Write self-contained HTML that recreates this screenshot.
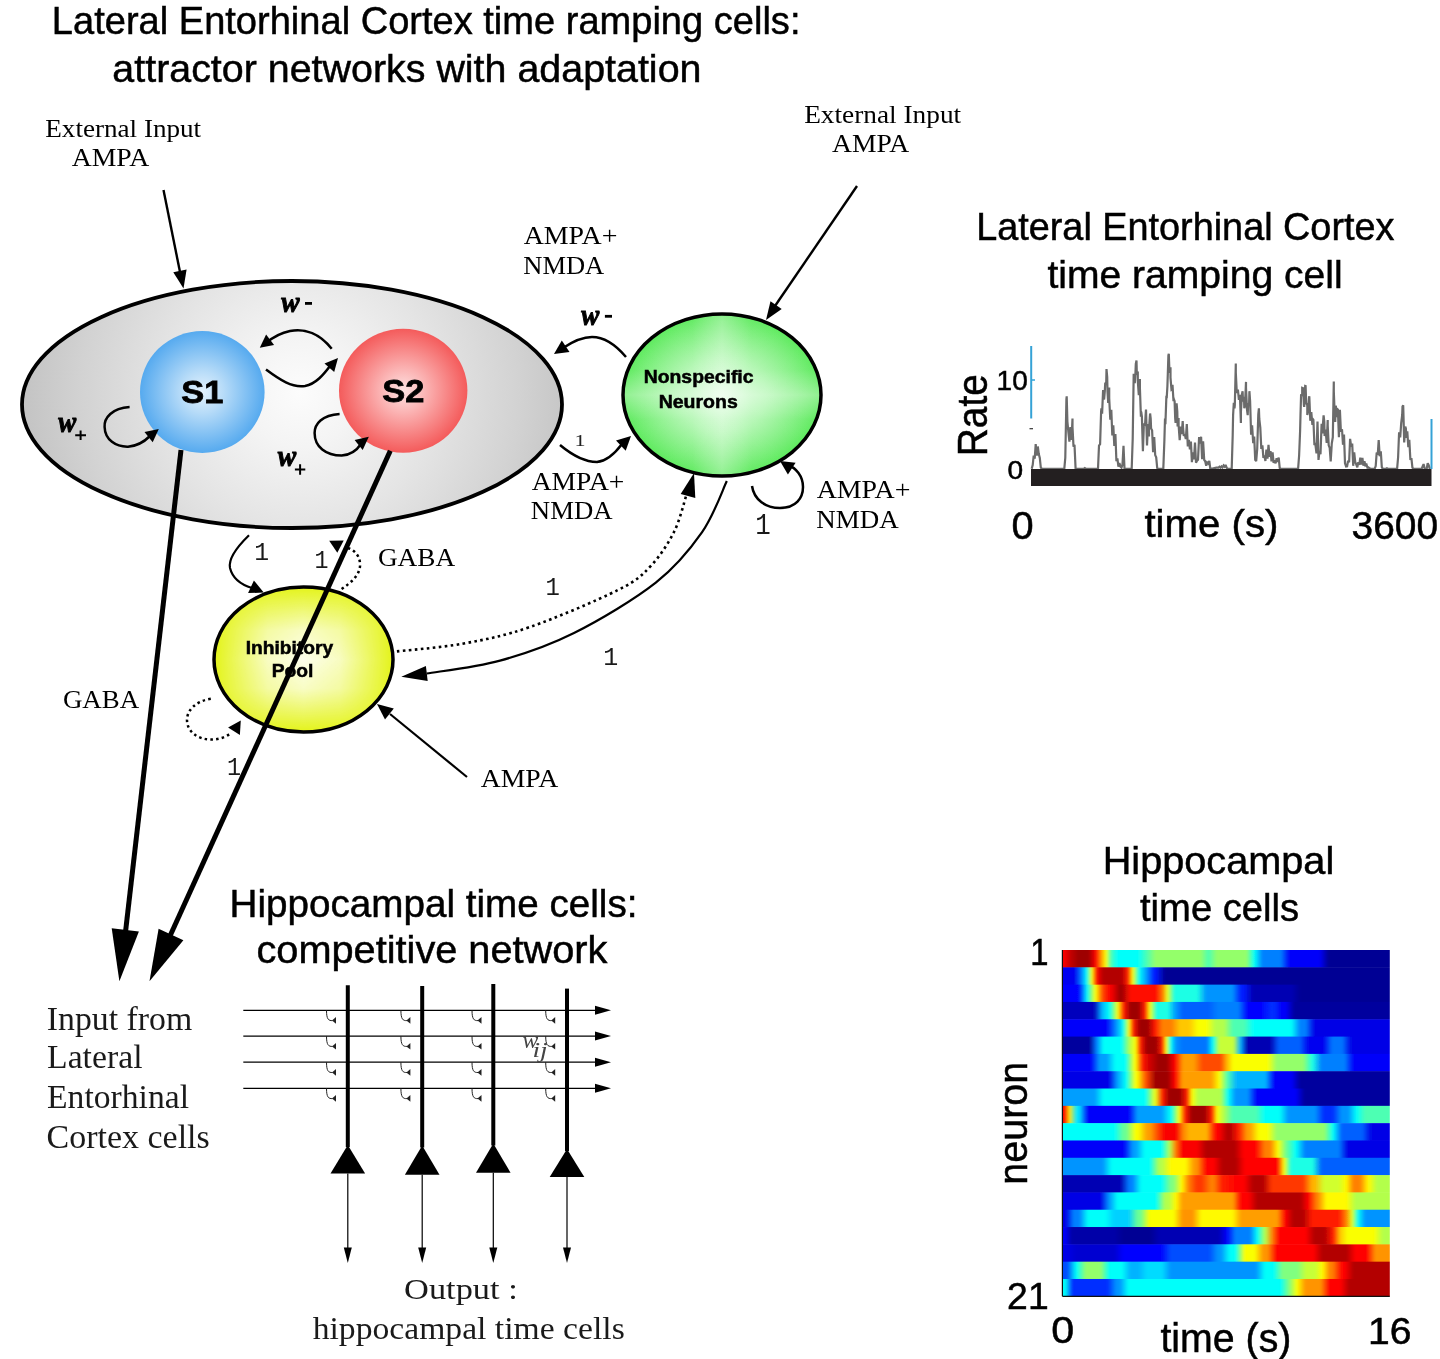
<!DOCTYPE html>
<html><head><meta charset="utf-8"><style>
html,body{margin:0;padding:0;background:#fff;width:1440px;height:1359px;overflow:hidden;}
svg{display:block;will-change:transform;}
</style></head><body>
<svg width="1440" height="1359" viewBox="0 0 1440 1359">
<rect width="1440" height="1359" fill="#fff"/>
<defs>
<radialGradient id="gGray" gradientUnits="userSpaceOnUse" cx="300" cy="392" r="275"><stop offset="0" stop-color="#fcfcfc"/><stop offset="0.2" stop-color="#f4f4f4"/><stop offset="0.5" stop-color="#e4e4e4"/><stop offset="0.8" stop-color="#d2d2d2"/><stop offset="1" stop-color="#c4c4c4"/></radialGradient>
<radialGradient id="gBlue" cx="0.5" cy="0.5" r="0.5"><stop offset="0" stop-color="#e4f2fd"/><stop offset="0.35" stop-color="#b6dbf8"/><stop offset="1" stop-color="#56aaef"/></radialGradient>
<radialGradient id="gRed" cx="0.5" cy="0.5" r="0.5"><stop offset="0" stop-color="#fde2e2"/><stop offset="0.35" stop-color="#fbb4b4"/><stop offset="1" stop-color="#f45b5b"/></radialGradient>
<radialGradient id="gGreen" cx="0.5" cy="0.5" r="0.5"><stop offset="0" stop-color="#d8fcd8"/><stop offset="0.45" stop-color="#a2f5a2"/><stop offset="1" stop-color="#4ce84c"/></radialGradient>
<linearGradient id="bandH" x1="0" y1="0" x2="1" y2="0"><stop offset="0" stop-color="#fff" stop-opacity="0"/><stop offset="0.35" stop-color="#fff" stop-opacity="0.12"/><stop offset="0.5" stop-color="#fff" stop-opacity="0.38"/><stop offset="0.65" stop-color="#fff" stop-opacity="0.12"/><stop offset="1" stop-color="#fff" stop-opacity="0"/></linearGradient>
<linearGradient id="bandV" x1="0" y1="0" x2="0" y2="1"><stop offset="0" stop-color="#fff" stop-opacity="0"/><stop offset="0.35" stop-color="#fff" stop-opacity="0.12"/><stop offset="0.5" stop-color="#fff" stop-opacity="0.38"/><stop offset="0.65" stop-color="#fff" stop-opacity="0.12"/><stop offset="1" stop-color="#fff" stop-opacity="0"/></linearGradient>
<linearGradient id="yV" x1="0" y1="0" x2="0" y2="1"><stop offset="0" stop-color="#fff" stop-opacity="0"/><stop offset="0.12" stop-color="#fff" stop-opacity="0.3"/><stop offset="0.3" stop-color="#fff" stop-opacity="0.75"/><stop offset="0.5" stop-color="#fff" stop-opacity="0.92"/><stop offset="0.7" stop-color="#fff" stop-opacity="0.75"/><stop offset="0.88" stop-color="#fff" stop-opacity="0.3"/><stop offset="1" stop-color="#fff" stop-opacity="0"/></linearGradient>
<linearGradient id="yHm" x1="0" y1="0" x2="1" y2="0"><stop offset="0" stop-color="#000"/><stop offset="0.1" stop-color="#444"/><stop offset="0.3" stop-color="#ccc"/><stop offset="0.5" stop-color="#fff"/><stop offset="0.7" stop-color="#ccc"/><stop offset="0.9" stop-color="#444"/><stop offset="1" stop-color="#000"/></linearGradient>
<mask id="yMask" maskUnits="userSpaceOnUse" x="200" y="580" width="210" height="160"><rect x="214" y="587" width="179" height="145" fill="url(#yHm)"/></mask>
<radialGradient id="gYellow" cx="0.5" cy="0.5" r="0.5"><stop offset="0" stop-color="#fdfde6"/><stop offset="0.4" stop-color="#f6f99a"/><stop offset="1" stop-color="#e2f21c"/></radialGradient>
<marker id="ah" viewBox="0 0 10 10" refX="10" refY="5" markerWidth="10" markerHeight="10" markerUnits="userSpaceOnUse" orient="auto"><path d="M0,0 L10,5 L0,10 z"/></marker>
</defs>
<text x="51.86" y="34.40" font-family="'Liberation Sans', sans-serif" font-size="39.50" font-weight="normal" font-style="normal" fill="#000" textLength="748.60" lengthAdjust="spacingAndGlyphs" stroke="#000" stroke-width="0.5">Lateral Entorhinal Cortex time ramping cells:</text>
<text x="112.33" y="82.00" font-family="'Liberation Sans', sans-serif" font-size="39.50" font-weight="normal" font-style="normal" fill="#000" textLength="589.14" lengthAdjust="spacingAndGlyphs" stroke="#000" stroke-width="0.5">attractor networks with adaptation</text>
<text x="45.25" y="137.00" font-family="'Liberation Serif', serif" font-size="25.50" font-weight="normal" font-style="normal" fill="#000" textLength="155.90" lengthAdjust="spacingAndGlyphs" >External Input</text>
<text x="71.72" y="166.00" font-family="'Liberation Serif', serif" font-size="25.50" font-weight="normal" font-style="normal" fill="#000" textLength="77.50" lengthAdjust="spacingAndGlyphs" >AMPA</text>
<line x1="163.5" y1="190" x2="180" y2="272" stroke="#000" stroke-width="2.4"/>
<path d="M183.5,288.5 L173.3,272.2 L186.6,269.5 z" fill="#000"/>
<ellipse cx="292" cy="404.5" rx="270" ry="123.5" fill="url(#gGray)" stroke="#000" stroke-width="3.8"/>
<ellipse cx="202.3" cy="392" rx="62.3" ry="61" fill="url(#gBlue)"/>
<ellipse cx="403.2" cy="390.8" rx="64.2" ry="62" fill="url(#gRed)"/>
<text x="181.27" y="403.30" font-family="'Liberation Sans', sans-serif" font-size="32.00" font-weight="bold" font-style="normal" fill="#000" textLength="42.00" lengthAdjust="spacingAndGlyphs" stroke="#000" stroke-width="0.8">S1</text>
<text x="382.27" y="402.00" font-family="'Liberation Sans', sans-serif" font-size="32.00" font-weight="bold" font-style="normal" fill="#000" textLength="42.04" lengthAdjust="spacingAndGlyphs" stroke="#000" stroke-width="0.8">S2</text>
<path d="M331.7,348.8 C320,334 305,328 290,331 C280,333 272,338 266,343" fill="none" stroke="#000" stroke-width="2.5"/>
<path d="M259.8,347.7 L266.1,334.6 L274.1,344.9 z" fill="#000"/>
<path d="M266,369.6 C280,380 292,388 305,386 C316,384 324,374 330,366" fill="none" stroke="#000" stroke-width="2.5"/>
<path d="M338.0,358.0 L334.2,372.0 L324.5,363.4 z" fill="#000"/>
<path d="M129.6,407 C112,408 104,418 104.6,427 C105,440 116,447 128,446.7 C138,446 146,440 150,436" fill="none" stroke="#000" stroke-width="2.5"/>
<path d="M158.8,429.0 L152.7,442.2 L144.5,432.0 z" fill="#000"/>
<path d="M339.6,413.9 C322,415 314.6,424 314.6,433 C314.6,447 326,455.6 341.7,455.6 C350,455 357,450 361,444" fill="none" stroke="#000" stroke-width="2.5"/>
<path d="M368.8,436.8 L362.7,450.0 L354.6,439.9 z" fill="#000"/>
<text x="281.30" y="311.81" font-family="'Liberation Serif', serif" font-size="29.36" font-weight="bold" font-style="italic" fill="#000" textLength="18.32" lengthAdjust="spacingAndGlyphs" stroke="#000" stroke-width="1">w</text>
<rect x="305.0" y="302.0" width="7.0" height="2.8" fill="#000"/>
<text x="58.20" y="431.81" font-family="'Liberation Serif', serif" font-size="28.51" font-weight="bold" font-style="italic" fill="#000" textLength="17.92" lengthAdjust="spacingAndGlyphs" stroke="#000" stroke-width="1">w</text>
<path d="M75.2,435.2 H86.0 M80.6,430.4 V440.1" stroke="#000" stroke-width="2" fill="none"/>
<text x="277.80" y="465.91" font-family="'Liberation Serif', serif" font-size="28.51" font-weight="bold" font-style="italic" fill="#000" textLength="18.42" lengthAdjust="spacingAndGlyphs" stroke="#000" stroke-width="1">w</text>
<path d="M294.9,469.5 H305.3 M300.1,464.3 V474.7" stroke="#000" stroke-width="2" fill="none"/>
<ellipse cx="722" cy="395" rx="99" ry="81" fill="url(#gGreen)"/>
<ellipse cx="722" cy="395" rx="99" ry="81" fill="url(#bandH)"/>
<ellipse cx="722" cy="395" rx="99" ry="81" fill="url(#bandV)"/>
<ellipse cx="722" cy="395" rx="99" ry="81" fill="none" stroke="#000" stroke-width="3.5"/>
<text x="643.69" y="383.00" font-family="'Liberation Sans', sans-serif" font-size="18.00" font-weight="bold" font-style="normal" fill="#000" textLength="109.85" lengthAdjust="spacingAndGlyphs" stroke="#000" stroke-width="0.5">Nonspecific</text>
<text x="658.68" y="408.00" font-family="'Liberation Sans', sans-serif" font-size="18.00" font-weight="bold" font-style="normal" fill="#000" textLength="79.12" lengthAdjust="spacingAndGlyphs" stroke="#000" stroke-width="0.5">Neurons</text>
<text x="804.15" y="123.00" font-family="'Liberation Serif', serif" font-size="25.50" font-weight="normal" font-style="normal" fill="#000" textLength="157.01" lengthAdjust="spacingAndGlyphs" >External Input</text>
<text x="832.12" y="152.40" font-family="'Liberation Serif', serif" font-size="25.50" font-weight="normal" font-style="normal" fill="#000" textLength="77.09" lengthAdjust="spacingAndGlyphs" >AMPA</text>
<line x1="857" y1="186" x2="775" y2="306" stroke="#000" stroke-width="2.4"/>
<path d="M766.0,320.0 L770.5,301.3 L781.7,308.9 z" fill="#000"/>
<text x="523.72" y="243.50" font-family="'Liberation Serif', serif" font-size="25.50" font-weight="normal" font-style="normal" fill="#000" textLength="93.66" lengthAdjust="spacingAndGlyphs" >AMPA+</text>
<text x="523.27" y="273.50" font-family="'Liberation Serif', serif" font-size="25.50" font-weight="normal" font-style="normal" fill="#000" textLength="80.95" lengthAdjust="spacingAndGlyphs" >NMDA</text>
<path d="M626,357 C615,344 603,337 592,337 C582,337 572,342 563,348" fill="none" stroke="#000" stroke-width="2.5"/>
<path d="M554.0,354.0 L561.8,340.4 L569.5,352.1 z" fill="#000"/>
<text x="581.30" y="324.71" font-family="'Liberation Serif', serif" font-size="28.51" font-weight="bold" font-style="italic" fill="#000" textLength="18.02" lengthAdjust="spacingAndGlyphs" stroke="#000" stroke-width="1">w</text>
<rect x="604.9" y="314.9" width="7.1" height="2.8" fill="#000"/>
<path d="M560,445 C572,455 584,462 597,462 C608,461 616,452 622,444" fill="none" stroke="#000" stroke-width="2.5"/>
<path d="M631.0,436.0 L625.7,450.7 L616.0,440.6 z" fill="#000"/>
<text x="574.56" y="445.60" font-family="'Liberation Serif', serif" font-size="17.58" font-weight="normal" font-style="normal" fill="#222" textLength="11.06" lengthAdjust="spacingAndGlyphs" >1</text>
<text x="531.72" y="490.00" font-family="'Liberation Serif', serif" font-size="25.50" font-weight="normal" font-style="normal" fill="#000" textLength="92.64" lengthAdjust="spacingAndGlyphs" >AMPA+</text>
<text x="530.87" y="519.00" font-family="'Liberation Serif', serif" font-size="25.50" font-weight="normal" font-style="normal" fill="#000" textLength="81.66" lengthAdjust="spacingAndGlyphs" >NMDA</text>
<path d="M752,486 C754,500 766,508 780,508 C796,508 803,498 803,487 C803,476 796,468 788,465" fill="none" stroke="#000" stroke-width="2.5"/>
<path d="M780.0,461.0 L795.6,462.8 L787.9,474.5 z" fill="#000"/>
<text x="755.13" y="533.75" font-family="'Liberation Mono', monospace" font-size="28.97" font-weight="normal" font-style="normal" fill="#1a1a1a" textLength="15.50" lengthAdjust="spacingAndGlyphs" >1</text>
<text x="816.72" y="498.40" font-family="'Liberation Serif', serif" font-size="25.50" font-weight="normal" font-style="normal" fill="#000" textLength="93.66" lengthAdjust="spacingAndGlyphs" >AMPA+</text>
<text x="816.26" y="528.40" font-family="'Liberation Serif', serif" font-size="25.50" font-weight="normal" font-style="normal" fill="#000" textLength="82.36" lengthAdjust="spacingAndGlyphs" >NMDA</text>
<ellipse cx="303.5" cy="659.5" rx="89.5" ry="72.5" fill="#e4f41a"/>
<g mask="url(#yMask)"><ellipse cx="303.5" cy="659.5" rx="89.5" ry="72.5" fill="url(#yV)"/></g>
<ellipse cx="303.5" cy="659.5" rx="89.5" ry="72.5" fill="none" stroke="#000" stroke-width="3.5"/>
<text x="245.70" y="654.00" font-family="'Liberation Sans', sans-serif" font-size="17.50" font-weight="bold" font-style="normal" fill="#000" textLength="87.40" lengthAdjust="spacingAndGlyphs" stroke="#000" stroke-width="0.5">Inhibitory</text>
<text x="271.70" y="677.00" font-family="'Liberation Sans', sans-serif" font-size="17.50" font-weight="bold" font-style="normal" fill="#000" textLength="41.67" lengthAdjust="spacingAndGlyphs" stroke="#000" stroke-width="0.5">Pool</text>
<path d="M249,535.3 C238,546 228,558 230,568 C233,580 242,585 252,588" fill="none" stroke="#000" stroke-width="2.2"/>
<path d="M263.7,592.6 L248.1,593.1 L253.9,580.4 z" fill="#000"/>
<text x="254.20" y="560.10" font-family="'Liberation Mono', monospace" font-size="26.01" font-weight="normal" font-style="normal" fill="#1a1a1a" textLength="14.88" lengthAdjust="spacingAndGlyphs" >1</text>
<path d="M341.6,589 C352,582 361,574 360,563 C359,553 352,549 345,547" fill="none" stroke="#000" stroke-width="2.5" stroke-dasharray="2.5,3.2"/>
<path d="M329.2,540.7 L343.7,540.4 L337.3,552.8 z" fill="#000"/>
<text x="314.61" y="568.40" font-family="'Liberation Mono', monospace" font-size="24.94" font-weight="normal" font-style="normal" fill="#1a1a1a" textLength="14.00" lengthAdjust="spacingAndGlyphs" >1</text>
<text x="377.91" y="566.00" font-family="'Liberation Serif', serif" font-size="25.50" font-weight="normal" font-style="normal" fill="#000" textLength="77.26" lengthAdjust="spacingAndGlyphs" >GABA</text>
<path d="M391.0,652.0 C402.9,650.6 439.3,647.9 462.5,643.7 C485.7,639.5 504.1,636.0 530.0,627.0 C555.9,618.0 597.9,600.1 618.0,590.0 C638.1,579.9 641.3,575.8 650.6,566.1 C659.9,556.4 668.1,543.7 674.0,532.0 C679.9,520.3 684.1,502.0 686.1,496.0" fill="none" stroke="#000" stroke-width="2.6" stroke-dasharray="2.6,3.4"/>
<path d="M694.0,473.0 L695.3,497.9 L680.7,494.1 z" fill="#000"/>
<text x="545.46" y="594.60" font-family="'Liberation Mono', monospace" font-size="26.46" font-weight="normal" font-style="normal" fill="#1a1a1a" textLength="14.38" lengthAdjust="spacingAndGlyphs" >1</text>
<path d="M726.8,481.1 C722.7,489.6 713.9,515.2 702.1,532.1 C690.3,549.0 677.1,565.8 655.8,582.6 C634.4,599.4 600.0,620.0 574.0,633.0 C548.0,646.0 524.5,653.9 500.0,660.6 C475.5,667.4 439.0,671.4 426.8,673.5" fill="none" stroke="#000" stroke-width="2.2"/>
<path d="M401.3,676.7 L425.9,666.1 L427.7,680.9 z" fill="#000"/>
<text x="603.19" y="664.60" font-family="'Liberation Mono', monospace" font-size="26.16" font-weight="normal" font-style="normal" fill="#1a1a1a" textLength="15.00" lengthAdjust="spacingAndGlyphs" >1</text>
<line x1="467" y1="777" x2="390" y2="714" stroke="#000" stroke-width="2.2"/>
<path d="M377.0,704.0 L393.8,708.6 L385.0,719.5 z" fill="#000"/>
<text x="480.72" y="787.00" font-family="'Liberation Serif', serif" font-size="25.50" font-weight="normal" font-style="normal" fill="#000" textLength="77.50" lengthAdjust="spacingAndGlyphs" >AMPA</text>
<path d="M210.8,698.8 C196,701 187,710 187,720 C187,732 198,739.6 211.7,739.6 C219,739.6 226,737 231,733" fill="none" stroke="#000" stroke-width="2.5" stroke-dasharray="2.5,3.2"/>
<path d="M240.8,720.4 L239.9,734.9 L228.1,727.5 z" fill="#000"/>
<text x="227.05" y="774.60" font-family="'Liberation Mono', monospace" font-size="25.40" font-weight="normal" font-style="normal" fill="#1a1a1a" textLength="14.07" lengthAdjust="spacingAndGlyphs" >1</text>
<text x="62.92" y="707.50" font-family="'Liberation Serif', serif" font-size="25.50" font-weight="normal" font-style="normal" fill="#000" textLength="76.24" lengthAdjust="spacingAndGlyphs" >GABA</text>
<line x1="181" y1="450" x2="125.5" y2="932" stroke="#000" stroke-width="5"/>
<path d="M119.4,981.3 L111.7,928.2 L138.9,931.4 z" fill="#000"/>
<line x1="390.3" y1="450.7" x2="170" y2="936" stroke="#000" stroke-width="5"/>
<path d="M149.5,981.3 L158.6,928.8 L183.4,940.2 z" fill="#000"/>
<text x="46.82" y="1030.30" font-family="'Liberation Serif', serif" font-size="33.50" font-weight="normal" font-style="normal" fill="#1a1a1a" textLength="145.48" lengthAdjust="spacingAndGlyphs" >Input from</text>
<text x="47.07" y="1067.80" font-family="'Liberation Serif', serif" font-size="33.50" font-weight="normal" font-style="normal" fill="#1a1a1a" textLength="95.44" lengthAdjust="spacingAndGlyphs" >Lateral</text>
<text x="47.08" y="1108.00" font-family="'Liberation Serif', serif" font-size="33.50" font-weight="normal" font-style="normal" fill="#1a1a1a" textLength="141.94" lengthAdjust="spacingAndGlyphs" >Entorhinal</text>
<text x="46.64" y="1148.30" font-family="'Liberation Serif', serif" font-size="33.50" font-weight="normal" font-style="normal" fill="#1a1a1a" textLength="163.11" lengthAdjust="spacingAndGlyphs" >Cortex cells</text>
<text x="404.13" y="1299.00" font-family="'Liberation Serif', serif" font-size="30.00" font-weight="normal" font-style="normal" fill="#1a1a1a" textLength="113.55" lengthAdjust="spacingAndGlyphs" >Output :</text>
<text x="312.66" y="1339.10" font-family="'Liberation Serif', serif" font-size="31.00" font-weight="normal" font-style="normal" fill="#1a1a1a" textLength="312.10" lengthAdjust="spacingAndGlyphs" >hippocampal time cells</text>
<text x="229.61" y="917.40" font-family="'Liberation Sans', sans-serif" font-size="39.00" font-weight="normal" font-style="normal" fill="#000" textLength="407.86" lengthAdjust="spacingAndGlyphs" stroke="#000" stroke-width="0.5">Hippocampal time cells:</text>
<text x="256.51" y="963.20" font-family="'Liberation Sans', sans-serif" font-size="39.00" font-weight="normal" font-style="normal" fill="#000" textLength="350.88" lengthAdjust="spacingAndGlyphs" stroke="#000" stroke-width="0.5">competitive network</text>
<line x1="243.3" y1="1010.3" x2="600" y2="1010.3" stroke="#000" stroke-width="1.3"/>
<path d="M611,1010.3 L595,1005.8 L595,1014.8 z" fill="#000"/>
<line x1="243.3" y1="1036.1" x2="600" y2="1036.1" stroke="#000" stroke-width="1.3"/>
<path d="M611,1036.1 L595,1031.6 L595,1040.6 z" fill="#000"/>
<line x1="243.3" y1="1062.2" x2="600" y2="1062.2" stroke="#000" stroke-width="1.3"/>
<path d="M611,1062.2 L595,1057.7 L595,1066.7 z" fill="#000"/>
<line x1="243.3" y1="1088.3" x2="600" y2="1088.3" stroke="#000" stroke-width="1.3"/>
<path d="M611,1088.3 L595,1083.8 L595,1092.8 z" fill="#000"/>
<line x1="347.8" y1="985.3" x2="347.8" y2="1147.0" stroke="#000" stroke-width="4"/>
<path d="M347.8,1145.0 L330.5,1173.6 L365.1,1173.6 z" fill="#000"/>
<line x1="347.8" y1="1173.6" x2="347.8" y2="1250" stroke="#000" stroke-width="1.2"/>
<path d="M347.8,1263 L343.8,1247.5 L351.8,1247.5 z" fill="#000"/>
<path d="M326.5,1010.3 C326.5,1019.3 328.5,1020.8 332.5,1020.6" fill="none" stroke="#222" stroke-width="1"/>
<path d="M332.0,1020.6 L336.0,1017.1 L336.0,1023.8 z" fill="#222"/>
<path d="M326.5,1036.1 C326.5,1045.1 328.5,1046.6 332.5,1046.4" fill="none" stroke="#222" stroke-width="1"/>
<path d="M332.0,1046.4 L336.0,1042.9 L336.0,1049.6 z" fill="#222"/>
<path d="M326.5,1062.2 C326.5,1071.2 328.5,1072.7 332.5,1072.5" fill="none" stroke="#222" stroke-width="1"/>
<path d="M332.0,1072.5 L336.0,1069.0 L336.0,1075.7 z" fill="#222"/>
<path d="M326.5,1088.3 C326.5,1097.3 328.5,1098.8 332.5,1098.6" fill="none" stroke="#222" stroke-width="1"/>
<path d="M332.0,1098.6 L336.0,1095.1 L336.0,1101.8 z" fill="#222"/>
<line x1="422.2" y1="986.0" x2="422.2" y2="1147.5" stroke="#000" stroke-width="4"/>
<path d="M422.2,1145.5 L404.9,1174.7 L439.5,1174.7 z" fill="#000"/>
<line x1="422.2" y1="1174.7" x2="422.2" y2="1250" stroke="#000" stroke-width="1.2"/>
<path d="M422.2,1263 L418.2,1247.5 L426.2,1247.5 z" fill="#000"/>
<path d="M400.9,1010.3 C400.9,1019.3 402.9,1020.8 406.9,1020.6" fill="none" stroke="#222" stroke-width="1"/>
<path d="M406.4,1020.6 L410.4,1017.1 L410.4,1023.8 z" fill="#222"/>
<path d="M400.9,1036.1 C400.9,1045.1 402.9,1046.6 406.9,1046.4" fill="none" stroke="#222" stroke-width="1"/>
<path d="M406.4,1046.4 L410.4,1042.9 L410.4,1049.6 z" fill="#222"/>
<path d="M400.9,1062.2 C400.9,1071.2 402.9,1072.7 406.9,1072.5" fill="none" stroke="#222" stroke-width="1"/>
<path d="M406.4,1072.5 L410.4,1069.0 L410.4,1075.7 z" fill="#222"/>
<path d="M400.9,1088.3 C400.9,1097.3 402.9,1098.8 406.9,1098.6" fill="none" stroke="#222" stroke-width="1"/>
<path d="M406.4,1098.6 L410.4,1095.1 L410.4,1101.8 z" fill="#222"/>
<line x1="493.3" y1="983.9" x2="493.3" y2="1145.6" stroke="#000" stroke-width="4"/>
<path d="M493.3,1143.6 L476.0,1172.8 L510.6,1172.8 z" fill="#000"/>
<line x1="493.3" y1="1172.8" x2="493.3" y2="1250" stroke="#000" stroke-width="1.2"/>
<path d="M493.3,1263 L489.3,1247.5 L497.3,1247.5 z" fill="#000"/>
<path d="M472.0,1010.3 C472.0,1019.3 474.0,1020.8 478.0,1020.6" fill="none" stroke="#222" stroke-width="1"/>
<path d="M477.5,1020.6 L481.5,1017.1 L481.5,1023.8 z" fill="#222"/>
<path d="M472.0,1036.1 C472.0,1045.1 474.0,1046.6 478.0,1046.4" fill="none" stroke="#222" stroke-width="1"/>
<path d="M477.5,1046.4 L481.5,1042.9 L481.5,1049.6 z" fill="#222"/>
<path d="M472.0,1062.2 C472.0,1071.2 474.0,1072.7 478.0,1072.5" fill="none" stroke="#222" stroke-width="1"/>
<path d="M477.5,1072.5 L481.5,1069.0 L481.5,1075.7 z" fill="#222"/>
<path d="M472.0,1088.3 C472.0,1097.3 474.0,1098.8 478.0,1098.6" fill="none" stroke="#222" stroke-width="1"/>
<path d="M477.5,1098.6 L481.5,1095.1 L481.5,1101.8 z" fill="#222"/>
<line x1="567.0" y1="988.6" x2="567.0" y2="1151.0" stroke="#000" stroke-width="4"/>
<path d="M567.0,1149.0 L549.7,1177.0 L584.3,1177.0 z" fill="#000"/>
<line x1="567.0" y1="1177.0" x2="567.0" y2="1250" stroke="#000" stroke-width="1.2"/>
<path d="M567.0,1263 L563.0,1247.5 L571.0,1247.5 z" fill="#000"/>
<path d="M545.7,1010.3 C545.7,1019.3 547.7,1020.8 551.7,1020.6" fill="none" stroke="#222" stroke-width="1"/>
<path d="M551.2,1020.6 L555.2,1017.1 L555.2,1023.8 z" fill="#222"/>
<path d="M545.7,1036.1 C545.7,1045.1 547.7,1046.6 551.7,1046.4" fill="none" stroke="#222" stroke-width="1"/>
<path d="M551.2,1046.4 L555.2,1042.9 L555.2,1049.6 z" fill="#222"/>
<path d="M545.7,1062.2 C545.7,1071.2 547.7,1072.7 551.7,1072.5" fill="none" stroke="#222" stroke-width="1"/>
<path d="M551.2,1072.5 L555.2,1069.0 L555.2,1075.7 z" fill="#222"/>
<path d="M545.7,1088.3 C545.7,1097.3 547.7,1098.8 551.7,1098.6" fill="none" stroke="#222" stroke-width="1"/>
<path d="M551.2,1098.6 L555.2,1095.1 L555.2,1101.8 z" fill="#222"/>
<text x="522.41" y="1047.80" font-family="'Liberation Serif', serif" font-size="24.00" font-weight="normal" font-style="italic" fill="#444" textLength="15.76" lengthAdjust="spacingAndGlyphs" >w</text>
<text x="532.49" y="1057.00" font-family="'Liberation Serif', serif" font-size="21.00" font-weight="normal" font-style="italic" fill="#444" textLength="15.21" lengthAdjust="spacingAndGlyphs" >ij</text>
<text x="976.18" y="240.00" font-family="'Liberation Sans', sans-serif" font-size="39.00" font-weight="normal" font-style="normal" fill="#000" textLength="418.27" lengthAdjust="spacingAndGlyphs" stroke="#000" stroke-width="0.5">Lateral Entorhinal Cortex</text>
<text x="1047.41" y="288.30" font-family="'Liberation Sans', sans-serif" font-size="39.00" font-weight="normal" font-style="normal" fill="#000" textLength="295.26" lengthAdjust="spacingAndGlyphs" stroke="#000" stroke-width="0.5">time ramping cell</text>
<polyline points="1031.7,468.8 1032.7,465.1 1033.7,455.5 1034.7,458.8 1035.7,444.0 1036.8,455.6 1037.8,446.5 1038.8,454.1 1039.8,458.0 1040.8,467.6 1041.9,468.8 1042.9,468.8 1043.9,468.8 1044.9,468.8 1046.0,468.8 1047.0,468.8 1048.0,468.8 1049.0,468.8 1050.0,468.8 1051.1,468.8 1052.1,468.8 1053.1,468.8 1054.1,468.8 1055.1,468.8 1056.2,468.8 1057.2,468.8 1058.2,468.8 1059.2,468.8 1060.2,468.8 1061.3,468.8 1062.3,468.8 1063.3,468.8 1064.3,468.8 1065.3,457.7 1066.4,399.3 1066.7,396.3 1067.4,421.6 1068.4,432.2 1069.4,441.6 1070.4,427.1 1071.5,440.0 1072.5,418.6 1072.5,427.0 1073.5,446.6 1074.5,444.8 1075.6,468.8 1076.6,468.8 1077.6,468.8 1078.6,468.8 1079.6,468.8 1080.7,468.8 1081.7,468.8 1082.7,468.8 1083.7,468.8 1084.7,468.1 1085.8,468.8 1086.8,468.8 1087.8,468.8 1088.8,468.8 1089.8,468.8 1090.9,468.8 1091.9,468.8 1092.9,468.8 1093.9,468.8 1094.9,468.8 1096.0,468.8 1097.0,468.8 1098.0,468.8 1099.0,445.7 1100.1,444.1 1101.1,411.8 1101.4,408.3 1102.1,413.6 1103.1,390.1 1103.1,398.1 1104.1,399.4 1104.8,391.2 1105.2,383.8 1106.2,383.9 1106.5,369.1 1107.2,377.0 1107.5,391.2 1108.2,403.0 1109.2,387.6 1109.2,398.1 1110.3,419.8 1110.6,415.1 1111.3,409.9 1112.3,435.5 1113.3,425.2 1114.3,446.0 1115.4,434.0 1116.4,461.2 1117.4,458.4 1118.4,466.6 1119.4,463.0 1120.5,466.6 1121.5,467.6 1122.5,464.4 1123.5,445.9 1124.5,468.8 1125.6,468.8 1126.6,468.8 1127.6,468.8 1128.6,468.8 1129.7,468.8 1130.7,468.8 1131.7,468.8 1132.7,439.1 1133.7,373.8 1133.7,381.0 1134.8,383.1 1135.4,374.2 1135.8,363.9 1136.5,360.6 1136.8,373.6 1137.8,373.1 1137.8,381.0 1138.8,395.2 1139.9,379.1 1139.9,387.8 1140.9,416.6 1141.2,411.7 1141.9,416.7 1142.9,451.2 1143.9,423.4 1145.0,426.0 1145.6,415.1 1146.0,409.5 1147.0,445.4 1148.0,424.1 1149.0,436.4 1149.0,428.7 1150.1,413.5 1150.7,418.5 1151.1,428.5 1152.1,430.2 1153.1,452.1 1154.2,437.0 1155.2,455.1 1156.2,457.4 1157.2,468.0 1158.2,468.8 1159.3,468.8 1160.3,468.8 1161.3,468.8 1162.3,468.8 1163.3,468.8 1164.4,440.1 1165.0,418.5 1165.4,424.2 1166.4,395.8 1166.7,398.1 1167.4,386.2 1167.8,374.2 1168.4,355.3 1168.8,353.8 1169.5,372.9 1170.5,367.2 1170.5,377.6 1171.5,389.7 1171.8,389.5 1172.5,384.8 1173.5,401.2 1173.5,398.1 1174.6,401.2 1175.2,418.5 1175.6,423.0 1176.6,403.4 1177.3,411.7 1177.6,426.5 1178.6,418.1 1178.6,425.3 1179.7,440.2 1180.7,426.6 1181.7,434.0 1182.7,421.1 1183.1,428.7 1183.8,435.8 1184.8,434.4 1185.8,439.1 1186.5,428.7 1186.8,424.0 1187.8,446.4 1188.9,439.9 1189.9,449.3 1190.9,441.5 1191.9,462.1 1192.9,452.3 1194.0,459.3 1195.0,442.5 1196.0,462.7 1197.0,460.7 1198.0,459.7 1199.1,437.0 1200.1,443.7 1201.1,436.7 1202.1,459.1 1203.1,441.2 1204.2,459.8 1205.2,461.3 1206.2,465.8 1207.2,462.5 1208.3,463.6 1209.3,461.0 1210.3,468.8 1211.3,468.6 1212.3,468.5 1213.4,468.3 1214.4,468.1 1215.4,467.9 1216.4,467.7 1217.4,467.6 1218.5,467.6 1219.5,466.7 1220.5,467.7 1221.5,466.5 1222.5,467.5 1223.6,465.5 1224.6,466.7 1225.6,465.0 1226.6,467.7 1227.6,468.8 1228.7,468.8 1229.7,468.8 1230.7,468.8 1231.7,468.8 1232.7,435.3 1233.1,415.1 1233.8,402.9 1234.5,408.3 1234.8,405.2 1235.8,363.6 1235.8,372.5 1236.8,393.0 1237.5,391.2 1237.9,389.7 1238.9,399.9 1239.2,398.1 1239.9,394.8 1240.9,422.9 1240.9,411.7 1241.9,394.5 1242.6,391.2 1243.0,401.4 1244.0,396.9 1244.3,408.3 1245.0,405.6 1246.0,381.9 1246.0,387.8 1247.0,409.7 1247.7,415.1 1248.1,404.3 1249.1,404.0 1249.4,391.2 1250.1,400.8 1251.1,434.7 1251.1,428.7 1252.1,425.2 1253.2,443.2 1254.2,436.6 1255.2,459.9 1256.2,461.1 1257.2,449.0 1258.3,414.3 1258.9,408.3 1259.3,419.0 1260.3,427.7 1261.3,448.9 1262.4,445.4 1263.4,457.8 1264.4,455.5 1265.4,461.0 1266.4,449.5 1267.5,458.7 1268.5,444.8 1269.5,456.9 1270.5,451.0 1271.5,461.3 1272.6,452.3 1273.6,462.9 1274.6,460.4 1275.6,463.3 1276.6,458.2 1277.7,461.9 1278.7,457.5 1279.7,467.9 1280.7,468.8 1281.7,468.8 1282.8,468.8 1283.8,468.8 1284.8,468.8 1285.8,468.8 1286.8,468.8 1287.9,468.8 1288.9,468.8 1289.9,468.8 1290.9,468.8 1292.0,468.8 1293.0,468.8 1294.0,468.8 1295.0,468.8 1296.0,468.8 1297.1,468.8 1298.1,468.8 1299.1,455.8 1300.1,431.0 1300.5,415.1 1301.1,394.3 1302.2,396.2 1302.2,387.8 1303.2,388.2 1303.9,404.9 1304.2,406.9 1305.2,386.0 1305.6,386.1 1306.2,403.0 1307.3,405.3 1307.3,415.1 1308.3,410.0 1309.0,398.1 1309.3,396.3 1310.3,420.8 1310.7,418.5 1311.3,412.0 1312.4,424.8 1312.4,418.5 1313.4,419.8 1314.4,445.0 1315.4,444.3 1316.5,453.3 1317.5,421.6 1318.5,459.9 1319.5,450.8 1320.5,454.1 1321.6,423.9 1322.6,433.4 1322.6,428.7 1323.6,415.3 1324.3,421.9 1324.6,436.1 1325.6,429.6 1326.7,442.8 1327.7,420.0 1327.7,425.3 1328.7,445.3 1329.7,447.9 1330.7,461.4 1331.8,443.3 1332.8,437.3 1333.8,381.4 1333.8,391.2 1334.8,417.3 1335.2,421.9 1335.8,405.7 1336.9,417.1 1336.9,408.3 1337.9,409.6 1338.6,428.7 1338.9,437.3 1339.9,409.8 1340.3,418.5 1340.9,431.7 1342.0,429.2 1343.0,444.8 1344.0,434.6 1345.0,463.3 1346.1,466.6 1347.1,466.4 1348.1,460.8 1349.1,462.3 1350.1,438.9 1351.2,446.7 1352.2,443.5 1353.2,465.8 1354.2,452.4 1355.2,461.9 1356.3,464.6 1357.3,467.3 1358.3,462.3 1359.3,464.9 1360.3,457.7 1361.4,464.5 1362.4,457.9 1363.4,465.7 1364.4,461.2 1365.4,465.3 1366.5,464.5 1367.5,467.7 1368.5,467.5 1369.5,468.3 1370.6,468.8 1371.6,468.8 1372.6,468.8 1373.6,468.8 1374.6,468.8 1375.7,466.1 1376.7,452.5 1377.7,455.0 1378.7,440.0 1379.7,456.3 1380.8,451.3 1381.8,467.1 1382.8,468.8 1383.8,468.8 1384.8,468.8 1385.9,468.8 1386.9,468.3 1387.9,468.8 1388.9,468.8 1389.9,468.8 1391.0,468.8 1392.0,468.8 1393.0,468.8 1394.0,468.8 1395.0,468.8 1396.1,468.8 1397.1,468.8 1398.1,457.3 1399.1,432.3 1400.2,437.3 1401.2,423.1 1402.2,415.0 1402.5,406.6 1403.2,405.4 1404.2,442.4 1405.3,426.6 1405.9,428.7 1406.3,437.9 1407.3,431.3 1408.3,447.1 1409.3,439.9 1410.4,460.0 1411.4,458.2 1412.4,467.5 1413.4,468.8 1414.4,468.8 1415.5,468.8 1416.5,468.8 1417.5,468.8 1418.5,468.8 1419.5,468.8 1420.6,468.8 1421.6,468.8 1422.6,466.4 1423.6,464.1 1424.7,468.8 1425.7,468.8 1426.7,468.8 1427.7,463.2 1428.7,465.2 1429.8,468.8 1430.8,468.8" fill="none" stroke="#6b6b6b" stroke-width="2.2" stroke-linejoin="miter" stroke-miterlimit="2"/>
<rect x="1031" y="469" width="400.5" height="17" fill="#231f20"/>
<line x1="1031.2" y1="346" x2="1031.2" y2="418.5" stroke="#35a2d6" stroke-width="2"/>
<line x1="1031" y1="380" x2="1035" y2="380" stroke="#2fa3d8" stroke-width="1.5"/>
<line x1="1029.5" y1="428.7" x2="1033" y2="428.7" stroke="#333" stroke-width="1.2"/>
<line x1="1431.5" y1="419" x2="1431.5" y2="469" stroke="#35a2d6" stroke-width="2"/>
<text x="996.60" y="389.50" font-family="'Liberation Sans', sans-serif" font-size="27.00" font-weight="normal" font-style="normal" fill="#000" textLength="31.11" lengthAdjust="spacingAndGlyphs" stroke="#000" stroke-width="0.5">10</text>
<text x="1007.48" y="479.25" font-family="'Liberation Sans', sans-serif" font-size="25.02" font-weight="normal" font-style="normal" fill="#000" textLength="15.61" lengthAdjust="spacingAndGlyphs" stroke="#000" stroke-width="0.5">0</text>
<text transform="translate(987.40,456.20) rotate(-90)" font-family="'Liberation Sans', sans-serif" font-size="43.00" fill="#000" stroke="#000" stroke-width="0.5" textLength="81.94" lengthAdjust="spacingAndGlyphs">Rate</text>
<text x="1011.41" y="538.50" font-family="'Liberation Sans', sans-serif" font-size="39.00" font-weight="normal" font-style="normal" fill="#000" textLength="22.13" lengthAdjust="spacingAndGlyphs" stroke="#000" stroke-width="0.5">0</text>
<text x="1144.40" y="537.00" font-family="'Liberation Sans', sans-serif" font-size="39.00" font-weight="normal" font-style="normal" fill="#000" textLength="134.04" lengthAdjust="spacingAndGlyphs" stroke="#000" stroke-width="0.5">time (s)</text>
<text x="1351.54" y="538.50" font-family="'Liberation Sans', sans-serif" font-size="39.00" font-weight="normal" font-style="normal" fill="#000" textLength="86.50" lengthAdjust="spacingAndGlyphs" stroke="#000" stroke-width="0.5">3600</text>
<text x="1102.73" y="873.75" font-family="'Liberation Sans', sans-serif" font-size="38.50" font-weight="normal" font-style="normal" fill="#000" textLength="231.51" lengthAdjust="spacingAndGlyphs" stroke="#000" stroke-width="0.5">Hippocampal</text>
<text x="1140.03" y="921.25" font-family="'Liberation Sans', sans-serif" font-size="38.50" font-weight="normal" font-style="normal" fill="#000" textLength="159.11" lengthAdjust="spacingAndGlyphs" stroke="#000" stroke-width="0.5">time cells</text>
<defs><linearGradient id="hr0" gradientUnits="userSpaceOnUse" x1="1062.40" y1="0" x2="1389.80" y2="0"><stop offset="0.0000" stop-color="#fa0000"/><stop offset="0.0053" stop-color="#fa0000"/><stop offset="0.0231" stop-color="#c70000"/><stop offset="0.0231" stop-color="#c70000"/><stop offset="0.0492" stop-color="#9e0000"/><stop offset="0.0797" stop-color="#9e0000"/><stop offset="0.1026" stop-color="#ff0500"/><stop offset="0.1026" stop-color="#ff0500"/><stop offset="0.1190" stop-color="#ff9e00"/><stop offset="0.1190" stop-color="#ff9e00"/><stop offset="0.1333" stop-color="#faff05"/><stop offset="0.1333" stop-color="#faff05"/><stop offset="0.1475" stop-color="#4dffb3"/><stop offset="0.1475" stop-color="#4dffb3"/><stop offset="0.1683" stop-color="#05fffa"/><stop offset="0.2312" stop-color="#05fffa"/><stop offset="0.2578" stop-color="#4dffb3"/><stop offset="0.2578" stop-color="#4dffb3"/><stop offset="0.2844" stop-color="#94ff6b"/><stop offset="0.4218" stop-color="#94ff6b"/><stop offset="0.4467" stop-color="#4dffb3"/><stop offset="0.4467" stop-color="#4dffb3"/><stop offset="0.4716" stop-color="#94ff6b"/><stop offset="0.5623" stop-color="#94ff6b"/><stop offset="0.5867" stop-color="#05fffa"/><stop offset="0.5867" stop-color="#05fffa"/><stop offset="0.6112" stop-color="#0080ff"/><stop offset="0.6662" stop-color="#0080ff"/><stop offset="0.6936" stop-color="#0000fa"/><stop offset="0.7853" stop-color="#0000fa"/><stop offset="0.8128" stop-color="#000094"/><stop offset="1.0000" stop-color="#000094"/></linearGradient><linearGradient id="hr1" gradientUnits="userSpaceOnUse" x1="1062.40" y1="0" x2="1389.80" y2="0"><stop offset="0.0000" stop-color="#0000f0"/><stop offset="0.0367" stop-color="#0000f0"/><stop offset="0.0576" stop-color="#0080ff"/><stop offset="0.0576" stop-color="#0080ff"/><stop offset="0.0738" stop-color="#00faff"/><stop offset="0.0738" stop-color="#00faff"/><stop offset="0.0900" stop-color="#faff05"/><stop offset="0.0900" stop-color="#faff05"/><stop offset="0.1045" stop-color="#ff0500"/><stop offset="0.1045" stop-color="#ff0500"/><stop offset="0.1255" stop-color="#b30000"/><stop offset="0.1808" stop-color="#b30000"/><stop offset="0.2001" stop-color="#ff1a00"/><stop offset="0.2001" stop-color="#ff1a00"/><stop offset="0.2146" stop-color="#faff05"/><stop offset="0.2146" stop-color="#faff05"/><stop offset="0.2343" stop-color="#05fffa"/><stop offset="0.2343" stop-color="#05fffa"/><stop offset="0.2558" stop-color="#009eff"/><stop offset="0.2558" stop-color="#009eff"/><stop offset="0.2804" stop-color="#001aff"/><stop offset="0.2856" stop-color="#001aff"/><stop offset="0.3131" stop-color="#000094"/><stop offset="1.0000" stop-color="#000094"/></linearGradient><linearGradient id="hr2" gradientUnits="userSpaceOnUse" x1="1062.40" y1="0" x2="1389.80" y2="0"><stop offset="0.0000" stop-color="#0005ff"/><stop offset="0.0510" stop-color="#0005ff"/><stop offset="0.0756" stop-color="#00faff"/><stop offset="0.0756" stop-color="#00faff"/><stop offset="0.1002" stop-color="#faff05"/><stop offset="0.1014" stop-color="#faff05"/><stop offset="0.1225" stop-color="#ff4c00"/><stop offset="0.1225" stop-color="#ff4c00"/><stop offset="0.1436" stop-color="#fa0000"/><stop offset="0.1484" stop-color="#fa0000"/><stop offset="0.1759" stop-color="#9e0000"/><stop offset="0.1808" stop-color="#9e0000"/><stop offset="0.2083" stop-color="#ff0f00"/><stop offset="0.2856" stop-color="#ff0f00"/><stop offset="0.3065" stop-color="#ff8000"/><stop offset="0.3065" stop-color="#ff8000"/><stop offset="0.3209" stop-color="#e5ff1a"/><stop offset="0.3209" stop-color="#e5ff1a"/><stop offset="0.3418" stop-color="#1affe5"/><stop offset="0.4117" stop-color="#1affe5"/><stop offset="0.4392" stop-color="#0094ff"/><stop offset="0.5189" stop-color="#0094ff"/><stop offset="0.5464" stop-color="#001aff"/><stop offset="0.5550" stop-color="#001aff"/><stop offset="0.5825" stop-color="#0000b3"/><stop offset="0.6991" stop-color="#0000b3"/><stop offset="0.7266" stop-color="#000094"/><stop offset="1.0000" stop-color="#000094"/></linearGradient><linearGradient id="hr3" gradientUnits="userSpaceOnUse" x1="1062.40" y1="0" x2="1389.80" y2="0"><stop offset="0.0000" stop-color="#0000bd"/><stop offset="0.0980" stop-color="#0000bd"/><stop offset="0.1208" stop-color="#00b3ff"/><stop offset="0.1208" stop-color="#00b3ff"/><stop offset="0.1436" stop-color="#05fffa"/><stop offset="0.1448" stop-color="#05fffa"/><stop offset="0.1694" stop-color="#faff05"/><stop offset="0.1694" stop-color="#faff05"/><stop offset="0.1874" stop-color="#ff1a00"/><stop offset="0.1874" stop-color="#ff1a00"/><stop offset="0.2083" stop-color="#9e0000"/><stop offset="0.2312" stop-color="#9e0000"/><stop offset="0.2523" stop-color="#ff1a00"/><stop offset="0.2523" stop-color="#ff1a00"/><stop offset="0.2668" stop-color="#faff05"/><stop offset="0.2668" stop-color="#faff05"/><stop offset="0.2877" stop-color="#1affe5"/><stop offset="0.3216" stop-color="#1affe5"/><stop offset="0.3444" stop-color="#009eff"/><stop offset="0.3444" stop-color="#009eff"/><stop offset="0.3671" stop-color="#0061ff"/><stop offset="0.4478" stop-color="#0061ff"/><stop offset="0.4753" stop-color="#0080ff"/><stop offset="0.5370" stop-color="#0080ff"/><stop offset="0.5644" stop-color="#0005ff"/><stop offset="0.6090" stop-color="#0005ff"/><stop offset="0.6365" stop-color="#002eff"/><stop offset="0.6451" stop-color="#002eff"/><stop offset="0.6726" stop-color="#0000fa"/><stop offset="0.6814" stop-color="#0000fa"/><stop offset="0.7089" stop-color="#00009e"/><stop offset="1.0000" stop-color="#00009e"/></linearGradient><linearGradient id="hr4" gradientUnits="userSpaceOnUse" x1="1062.40" y1="0" x2="1389.80" y2="0"><stop offset="0.0000" stop-color="#0000fa"/><stop offset="0.1341" stop-color="#0000fa"/><stop offset="0.1604" stop-color="#0080ff"/><stop offset="0.1604" stop-color="#0080ff"/><stop offset="0.1856" stop-color="#05fffa"/><stop offset="0.1856" stop-color="#05fffa"/><stop offset="0.2036" stop-color="#faff05"/><stop offset="0.2036" stop-color="#faff05"/><stop offset="0.2162" stop-color="#ff1a00"/><stop offset="0.2162" stop-color="#ff1a00"/><stop offset="0.2373" stop-color="#9e0000"/><stop offset="0.2602" stop-color="#9e0000"/><stop offset="0.2830" stop-color="#ff1a00"/><stop offset="0.2830" stop-color="#ff1a00"/><stop offset="0.3057" stop-color="#ff8000"/><stop offset="0.3323" stop-color="#ff8000"/><stop offset="0.3598" stop-color="#ffc700"/><stop offset="0.3864" stop-color="#ffc700"/><stop offset="0.4139" stop-color="#faff05"/><stop offset="0.4404" stop-color="#faff05"/><stop offset="0.4679" stop-color="#b3ff4c"/><stop offset="0.4936" stop-color="#b3ff4c"/><stop offset="0.5211" stop-color="#4dffb3"/><stop offset="0.5550" stop-color="#4dffb3"/><stop offset="0.5825" stop-color="#05fffa"/><stop offset="0.6991" stop-color="#05fffa"/><stop offset="0.7266" stop-color="#0080ff"/><stop offset="0.7425" stop-color="#0080ff"/><stop offset="0.7700" stop-color="#0000e6"/><stop offset="1.0000" stop-color="#0000e6"/></linearGradient><linearGradient id="hr5" gradientUnits="userSpaceOnUse" x1="1062.40" y1="0" x2="1389.80" y2="0"><stop offset="0.0000" stop-color="#00009e"/><stop offset="0.0834" stop-color="#00009e"/><stop offset="0.1045" stop-color="#0080ff"/><stop offset="0.1045" stop-color="#0080ff"/><stop offset="0.1255" stop-color="#05fffa"/><stop offset="0.1808" stop-color="#05fffa"/><stop offset="0.2054" stop-color="#b3ff4c"/><stop offset="0.2054" stop-color="#b3ff4c"/><stop offset="0.2234" stop-color="#faff05"/><stop offset="0.2234" stop-color="#faff05"/><stop offset="0.2378" stop-color="#ff1a00"/><stop offset="0.2378" stop-color="#ff1a00"/><stop offset="0.2587" stop-color="#9e0000"/><stop offset="0.2856" stop-color="#9e0000"/><stop offset="0.3047" stop-color="#ff1a00"/><stop offset="0.3047" stop-color="#ff1a00"/><stop offset="0.3172" stop-color="#faff05"/><stop offset="0.3172" stop-color="#faff05"/><stop offset="0.3316" stop-color="#05fffa"/><stop offset="0.3316" stop-color="#05fffa"/><stop offset="0.3461" stop-color="#0094ff"/><stop offset="0.3461" stop-color="#0094ff"/><stop offset="0.3671" stop-color="#0075ff"/><stop offset="0.4404" stop-color="#0075ff"/><stop offset="0.4597" stop-color="#05fffa"/><stop offset="0.4597" stop-color="#05fffa"/><stop offset="0.4789" stop-color="#c7ff38"/><stop offset="0.5226" stop-color="#c7ff38"/><stop offset="0.5435" stop-color="#00b3ff"/><stop offset="0.5435" stop-color="#00b3ff"/><stop offset="0.5644" stop-color="#0000b3"/><stop offset="0.6344" stop-color="#0000b3"/><stop offset="0.6619" stop-color="#0061ff"/><stop offset="0.7242" stop-color="#0061ff"/><stop offset="0.7517" stop-color="#0000f0"/><stop offset="0.7966" stop-color="#0000f0"/><stop offset="0.8241" stop-color="#0075ff"/><stop offset="0.8543" stop-color="#0075ff"/><stop offset="0.8818" stop-color="#0000e6"/><stop offset="1.0000" stop-color="#0000e6"/></linearGradient><linearGradient id="hr6" gradientUnits="userSpaceOnUse" x1="1062.40" y1="0" x2="1389.80" y2="0"><stop offset="0.0000" stop-color="#0000fa"/><stop offset="0.0870" stop-color="#0000fa"/><stop offset="0.1145" stop-color="#009eff"/><stop offset="0.1347" stop-color="#009eff"/><stop offset="0.1622" stop-color="#05fffa"/><stop offset="0.1927" stop-color="#05fffa"/><stop offset="0.2202" stop-color="#faff05"/><stop offset="0.2233" stop-color="#faff05"/><stop offset="0.2447" stop-color="#ff1a00"/><stop offset="0.2447" stop-color="#ff1a00"/><stop offset="0.2660" stop-color="#d10000"/><stop offset="0.2660" stop-color="#d10000"/><stop offset="0.2935" stop-color="#9e0000"/><stop offset="0.3180" stop-color="#9e0000"/><stop offset="0.3432" stop-color="#ff0500"/><stop offset="0.3432" stop-color="#ff0500"/><stop offset="0.3684" stop-color="#ff9e00"/><stop offset="0.4007" stop-color="#ff9e00"/><stop offset="0.4282" stop-color="#ff4c00"/><stop offset="0.4838" stop-color="#ff4c00"/><stop offset="0.5024" stop-color="#ffb300"/><stop offset="0.5024" stop-color="#ffb300"/><stop offset="0.5211" stop-color="#faff05"/><stop offset="0.6271" stop-color="#faff05"/><stop offset="0.6546" stop-color="#94ff6b"/><stop offset="0.7352" stop-color="#94ff6b"/><stop offset="0.7627" stop-color="#1affe5"/><stop offset="0.7642" stop-color="#1affe5"/><stop offset="0.7917" stop-color="#0080ff"/><stop offset="0.8616" stop-color="#0080ff"/><stop offset="0.8891" stop-color="#0000fa"/><stop offset="1.0000" stop-color="#0000fa"/></linearGradient><linearGradient id="hr7" gradientUnits="userSpaceOnUse" x1="1062.40" y1="0" x2="1389.80" y2="0"><stop offset="0.0000" stop-color="#0000e6"/><stop offset="0.1411" stop-color="#0000e6"/><stop offset="0.1675" stop-color="#009eff"/><stop offset="0.1675" stop-color="#009eff"/><stop offset="0.1940" stop-color="#05fffa"/><stop offset="0.1952" stop-color="#05fffa"/><stop offset="0.2227" stop-color="#faff05"/><stop offset="0.2279" stop-color="#faff05"/><stop offset="0.2553" stop-color="#ff4c00"/><stop offset="0.2566" stop-color="#ff4c00"/><stop offset="0.2841" stop-color="#9e0000"/><stop offset="0.3216" stop-color="#9e0000"/><stop offset="0.3444" stop-color="#ff0500"/><stop offset="0.3444" stop-color="#ff0500"/><stop offset="0.3671" stop-color="#ff9e00"/><stop offset="0.4548" stop-color="#ff9e00"/><stop offset="0.4794" stop-color="#faff05"/><stop offset="0.4794" stop-color="#faff05"/><stop offset="0.5040" stop-color="#4dffb3"/><stop offset="0.5046" stop-color="#4dffb3"/><stop offset="0.5321" stop-color="#00b3ff"/><stop offset="0.6200" stop-color="#00b3ff"/><stop offset="0.6475" stop-color="#0000fa"/><stop offset="0.6991" stop-color="#0000fa"/><stop offset="0.7266" stop-color="#00009e"/><stop offset="1.0000" stop-color="#00009e"/></linearGradient><linearGradient id="hr8" gradientUnits="userSpaceOnUse" x1="1062.40" y1="0" x2="1389.80" y2="0"><stop offset="0.0000" stop-color="#009eff"/><stop offset="0.0980" stop-color="#009eff"/><stop offset="0.1255" stop-color="#05fffa"/><stop offset="0.2538" stop-color="#05fffa"/><stop offset="0.2813" stop-color="#e5ff1a"/><stop offset="0.2844" stop-color="#e5ff1a"/><stop offset="0.3057" stop-color="#ff1a00"/><stop offset="0.3057" stop-color="#ff1a00"/><stop offset="0.3271" stop-color="#9e0000"/><stop offset="0.3577" stop-color="#9e0000"/><stop offset="0.3806" stop-color="#ff1a00"/><stop offset="0.3806" stop-color="#ff1a00"/><stop offset="0.3958" stop-color="#faff05"/><stop offset="0.3958" stop-color="#faff05"/><stop offset="0.4157" stop-color="#b3ff4c"/><stop offset="0.4838" stop-color="#b3ff4c"/><stop offset="0.5063" stop-color="#05fffa"/><stop offset="0.5063" stop-color="#05fffa"/><stop offset="0.5287" stop-color="#0094ff"/><stop offset="0.5654" stop-color="#0094ff"/><stop offset="0.5929" stop-color="#0000fa"/><stop offset="0.7120" stop-color="#0000fa"/><stop offset="0.7395" stop-color="#00009e"/><stop offset="1.0000" stop-color="#00009e"/></linearGradient><linearGradient id="hr9" gradientUnits="userSpaceOnUse" x1="1062.40" y1="0" x2="1389.80" y2="0"><stop offset="0.0000" stop-color="#fa0000"/><stop offset="0.0070" stop-color="#fa0000"/><stop offset="0.0214" stop-color="#ffe500"/><stop offset="0.0214" stop-color="#ffe500"/><stop offset="0.0425" stop-color="#00e5ff"/><stop offset="0.0510" stop-color="#00e5ff"/><stop offset="0.0785" stop-color="#0000fa"/><stop offset="0.2025" stop-color="#0000fa"/><stop offset="0.2300" stop-color="#009eff"/><stop offset="0.3036" stop-color="#009eff"/><stop offset="0.3311" stop-color="#05fffa"/><stop offset="0.3323" stop-color="#05fffa"/><stop offset="0.3569" stop-color="#faff05"/><stop offset="0.3569" stop-color="#faff05"/><stop offset="0.3749" stop-color="#ff1a00"/><stop offset="0.3749" stop-color="#ff1a00"/><stop offset="0.3958" stop-color="#9e0000"/><stop offset="0.4334" stop-color="#9e0000"/><stop offset="0.4562" stop-color="#ff1a00"/><stop offset="0.4562" stop-color="#ff1a00"/><stop offset="0.4724" stop-color="#faff05"/><stop offset="0.4724" stop-color="#faff05"/><stop offset="0.4927" stop-color="#b3ff4c"/><stop offset="0.4927" stop-color="#b3ff4c"/><stop offset="0.5195" stop-color="#4dffb3"/><stop offset="0.5910" stop-color="#4dffb3"/><stop offset="0.6185" stop-color="#05fffa"/><stop offset="0.6631" stop-color="#05fffa"/><stop offset="0.6906" stop-color="#0094ff"/><stop offset="0.7712" stop-color="#0094ff"/><stop offset="0.7987" stop-color="#002eff"/><stop offset="0.8256" stop-color="#002eff"/><stop offset="0.8531" stop-color="#0094ff"/><stop offset="0.8723" stop-color="#0094ff"/><stop offset="0.8987" stop-color="#05fffa"/><stop offset="0.8987" stop-color="#05fffa"/><stop offset="0.9252" stop-color="#4dffb3"/><stop offset="1.0000" stop-color="#4dffb3"/></linearGradient><linearGradient id="hr10" gradientUnits="userSpaceOnUse" x1="1062.40" y1="0" x2="1389.80" y2="0"><stop offset="0.0000" stop-color="#05fffa"/><stop offset="0.1591" stop-color="#05fffa"/><stop offset="0.1866" stop-color="#6bff94"/><stop offset="0.1952" stop-color="#6bff94"/><stop offset="0.2227" stop-color="#faff05"/><stop offset="0.2312" stop-color="#faff05"/><stop offset="0.2587" stop-color="#ff9e00"/><stop offset="0.2676" stop-color="#ff9e00"/><stop offset="0.2903" stop-color="#ff4c00"/><stop offset="0.2903" stop-color="#ff4c00"/><stop offset="0.3131" stop-color="#fa0000"/><stop offset="0.3467" stop-color="#fa0000"/><stop offset="0.3676" stop-color="#ff8000"/><stop offset="0.3676" stop-color="#ff8000"/><stop offset="0.3885" stop-color="#ffb300"/><stop offset="0.4404" stop-color="#ffb300"/><stop offset="0.4679" stop-color="#ff0500"/><stop offset="0.4765" stop-color="#ff0500"/><stop offset="0.5040" stop-color="#b30000"/><stop offset="0.5116" stop-color="#b30000"/><stop offset="0.5380" stop-color="#ff1a00"/><stop offset="0.5380" stop-color="#ff1a00"/><stop offset="0.5644" stop-color="#ff9e00"/><stop offset="0.5730" stop-color="#ff9e00"/><stop offset="0.6005" stop-color="#faff05"/><stop offset="0.6271" stop-color="#faff05"/><stop offset="0.6546" stop-color="#94ff6b"/><stop offset="0.8002" stop-color="#94ff6b"/><stop offset="0.8267" stop-color="#05fffa"/><stop offset="0.8267" stop-color="#05fffa"/><stop offset="0.8531" stop-color="#0061ff"/><stop offset="0.9157" stop-color="#0061ff"/><stop offset="0.9432" stop-color="#0000e6"/><stop offset="1.0000" stop-color="#0000e6"/></linearGradient><linearGradient id="hr11" gradientUnits="userSpaceOnUse" x1="1062.40" y1="0" x2="1389.80" y2="0"><stop offset="0.0000" stop-color="#0000fa"/><stop offset="0.1881" stop-color="#0000fa"/><stop offset="0.2156" stop-color="#009eff"/><stop offset="0.2242" stop-color="#009eff"/><stop offset="0.2517" stop-color="#05fffa"/><stop offset="0.3036" stop-color="#05fffa"/><stop offset="0.3280" stop-color="#b3ff4c"/><stop offset="0.3280" stop-color="#b3ff4c"/><stop offset="0.3461" stop-color="#ff8000"/><stop offset="0.3461" stop-color="#ff8000"/><stop offset="0.3671" stop-color="#fa0000"/><stop offset="0.4117" stop-color="#fa0000"/><stop offset="0.4392" stop-color="#b30000"/><stop offset="0.5263" stop-color="#b30000"/><stop offset="0.5538" stop-color="#ff0500"/><stop offset="0.5910" stop-color="#ff0500"/><stop offset="0.6185" stop-color="#ff8000"/><stop offset="0.6344" stop-color="#ff8000"/><stop offset="0.6590" stop-color="#faff05"/><stop offset="0.6590" stop-color="#faff05"/><stop offset="0.6836" stop-color="#6bff94"/><stop offset="0.6848" stop-color="#6bff94"/><stop offset="0.7123" stop-color="#05fffa"/><stop offset="0.7138" stop-color="#05fffa"/><stop offset="0.7413" stop-color="#0080ff"/><stop offset="0.8436" stop-color="#0080ff"/><stop offset="0.8711" stop-color="#0000e6"/><stop offset="1.0000" stop-color="#0000e6"/></linearGradient><linearGradient id="hr12" gradientUnits="userSpaceOnUse" x1="1062.40" y1="0" x2="1389.80" y2="0"><stop offset="0.0000" stop-color="#0094ff"/><stop offset="0.1231" stop-color="#0094ff"/><stop offset="0.1506" stop-color="#05fffa"/><stop offset="0.2676" stop-color="#05fffa"/><stop offset="0.2951" stop-color="#b3ff4c"/><stop offset="0.3036" stop-color="#b3ff4c"/><stop offset="0.3311" stop-color="#fffa00"/><stop offset="0.3757" stop-color="#fffa00"/><stop offset="0.4032" stop-color="#ff9400"/><stop offset="0.4117" stop-color="#ff9400"/><stop offset="0.4392" stop-color="#ff0500"/><stop offset="0.4621" stop-color="#ff0500"/><stop offset="0.4896" stop-color="#b30000"/><stop offset="0.5296" stop-color="#b30000"/><stop offset="0.5571" stop-color="#ff0500"/><stop offset="0.6561" stop-color="#ff0500"/><stop offset="0.6770" stop-color="#faff05"/><stop offset="0.6770" stop-color="#faff05"/><stop offset="0.6979" stop-color="#1affe5"/><stop offset="0.7642" stop-color="#1affe5"/><stop offset="0.7917" stop-color="#0061ff"/><stop offset="1.0000" stop-color="#0061ff"/></linearGradient><linearGradient id="hr13" gradientUnits="userSpaceOnUse" x1="1062.40" y1="0" x2="1389.80" y2="0"><stop offset="0.0000" stop-color="#0000b3"/><stop offset="0.1772" stop-color="#0000b3"/><stop offset="0.2046" stop-color="#0080ff"/><stop offset="0.2132" stop-color="#0080ff"/><stop offset="0.2407" stop-color="#05fffa"/><stop offset="0.3036" stop-color="#05fffa"/><stop offset="0.3311" stop-color="#80ff80"/><stop offset="0.3396" stop-color="#80ff80"/><stop offset="0.3641" stop-color="#fffa00"/><stop offset="0.3641" stop-color="#fffa00"/><stop offset="0.3856" stop-color="#ff8000"/><stop offset="0.3856" stop-color="#ff8000"/><stop offset="0.4102" stop-color="#ff3800"/><stop offset="0.4261" stop-color="#ff3800"/><stop offset="0.4536" stop-color="#ff8000"/><stop offset="0.4621" stop-color="#ff8000"/><stop offset="0.4896" stop-color="#ff1a00"/><stop offset="0.4982" stop-color="#ff1a00"/><stop offset="0.5257" stop-color="#ff0500"/><stop offset="0.5550" stop-color="#ff0500"/><stop offset="0.5825" stop-color="#b30000"/><stop offset="0.6127" stop-color="#b30000"/><stop offset="0.6402" stop-color="#ff3800"/><stop offset="0.7352" stop-color="#ff3800"/><stop offset="0.7627" stop-color="#ffb300"/><stop offset="0.7712" stop-color="#ffb300"/><stop offset="0.7987" stop-color="#d1ff2e"/><stop offset="0.8436" stop-color="#d1ff2e"/><stop offset="0.8664" stop-color="#fffa00"/><stop offset="0.8664" stop-color="#fffa00"/><stop offset="0.8891" stop-color="#ff8000"/><stop offset="0.9084" stop-color="#ff8000"/><stop offset="0.9348" stop-color="#fffa00"/><stop offset="0.9348" stop-color="#fffa00"/><stop offset="0.9612" stop-color="#b3ff4c"/><stop offset="1.0000" stop-color="#b3ff4c"/></linearGradient><linearGradient id="hr14" gradientUnits="userSpaceOnUse" x1="1062.40" y1="0" x2="1389.80" y2="0"><stop offset="0.0000" stop-color="#0000e6"/><stop offset="0.1161" stop-color="#0000e6"/><stop offset="0.1423" stop-color="#0094ff"/><stop offset="0.1423" stop-color="#0094ff"/><stop offset="0.1686" stop-color="#05fffa"/><stop offset="0.2856" stop-color="#05fffa"/><stop offset="0.3131" stop-color="#b3ff4c"/><stop offset="0.3250" stop-color="#b3ff4c"/><stop offset="0.3461" stop-color="#fffa00"/><stop offset="0.3461" stop-color="#fffa00"/><stop offset="0.3671" stop-color="#ff9e00"/><stop offset="0.4982" stop-color="#ff9e00"/><stop offset="0.5211" stop-color="#ff9e00"/><stop offset="0.5211" stop-color="#ff9e00"/><stop offset="0.5440" stop-color="#ff0500"/><stop offset="0.5678" stop-color="#ff0500"/><stop offset="0.5953" stop-color="#b30000"/><stop offset="0.7272" stop-color="#b30000"/><stop offset="0.7517" stop-color="#ff0500"/><stop offset="0.7517" stop-color="#ff0500"/><stop offset="0.7761" stop-color="#ff8000"/><stop offset="0.7792" stop-color="#ff8000"/><stop offset="0.8067" stop-color="#fffa00"/><stop offset="0.8677" stop-color="#fffa00"/><stop offset="0.8952" stop-color="#b3ff4c"/><stop offset="1.0000" stop-color="#b3ff4c"/></linearGradient><linearGradient id="hr15" gradientUnits="userSpaceOnUse" x1="1062.40" y1="0" x2="1389.80" y2="0"><stop offset="0.0000" stop-color="#0000e6"/><stop offset="0.0107" stop-color="#0000e6"/><stop offset="0.0351" stop-color="#0080ff"/><stop offset="0.0510" stop-color="#0080ff"/><stop offset="0.0785" stop-color="#05fffa"/><stop offset="0.1304" stop-color="#05fffa"/><stop offset="0.1579" stop-color="#00d1ff"/><stop offset="0.2025" stop-color="#00d1ff"/><stop offset="0.2300" stop-color="#6bff94"/><stop offset="0.2385" stop-color="#6bff94"/><stop offset="0.2660" stop-color="#faff05"/><stop offset="0.3396" stop-color="#faff05"/><stop offset="0.3671" stop-color="#ff9400"/><stop offset="0.3974" stop-color="#ff9400"/><stop offset="0.4249" stop-color="#fffa00"/><stop offset="0.5189" stop-color="#fffa00"/><stop offset="0.5464" stop-color="#ff9e00"/><stop offset="0.6561" stop-color="#ff9e00"/><stop offset="0.6807" stop-color="#ff0500"/><stop offset="0.6807" stop-color="#ff0500"/><stop offset="0.7053" stop-color="#b30000"/><stop offset="0.7352" stop-color="#b30000"/><stop offset="0.7627" stop-color="#ff1a00"/><stop offset="0.8436" stop-color="#ff1a00"/><stop offset="0.8664" stop-color="#ff8000"/><stop offset="0.8664" stop-color="#ff8000"/><stop offset="0.8844" stop-color="#e5ff1a"/><stop offset="0.8844" stop-color="#e5ff1a"/><stop offset="0.9024" stop-color="#05fffa"/><stop offset="0.9024" stop-color="#05fffa"/><stop offset="0.9252" stop-color="#0094ff"/><stop offset="1.0000" stop-color="#0094ff"/></linearGradient><linearGradient id="hr16" gradientUnits="userSpaceOnUse" x1="1062.40" y1="0" x2="1389.80" y2="0"><stop offset="0.0000" stop-color="#0000fa"/><stop offset="0.0070" stop-color="#0000fa"/><stop offset="0.0278" stop-color="#0000a8"/><stop offset="0.1591" stop-color="#0000a8"/><stop offset="0.1866" stop-color="#000094"/><stop offset="0.2676" stop-color="#000094"/><stop offset="0.2951" stop-color="#0000b3"/><stop offset="0.4765" stop-color="#0000b3"/><stop offset="0.5026" stop-color="#0000fa"/><stop offset="0.5026" stop-color="#0000fa"/><stop offset="0.5287" stop-color="#0080ff"/><stop offset="0.5730" stop-color="#0080ff"/><stop offset="0.5958" stop-color="#05fffa"/><stop offset="0.5958" stop-color="#05fffa"/><stop offset="0.6185" stop-color="#b3ff4c"/><stop offset="0.6200" stop-color="#b3ff4c"/><stop offset="0.6410" stop-color="#ff8000"/><stop offset="0.6410" stop-color="#ff8000"/><stop offset="0.6619" stop-color="#ff0500"/><stop offset="0.7425" stop-color="#ff0500"/><stop offset="0.7700" stop-color="#b30000"/><stop offset="0.8002" stop-color="#b30000"/><stop offset="0.8267" stop-color="#ff1a00"/><stop offset="0.8267" stop-color="#ff1a00"/><stop offset="0.8484" stop-color="#ffc700"/><stop offset="0.8484" stop-color="#ffc700"/><stop offset="0.8711" stop-color="#faff05"/><stop offset="0.9517" stop-color="#faff05"/><stop offset="0.9792" stop-color="#b3ff4c"/><stop offset="1.0000" stop-color="#b3ff4c"/></linearGradient><linearGradient id="hr17" gradientUnits="userSpaceOnUse" x1="1062.40" y1="0" x2="1389.80" y2="0"><stop offset="0.0000" stop-color="#0000e6"/><stop offset="0.0150" stop-color="#0000e6"/><stop offset="0.0425" stop-color="#0000d1"/><stop offset="0.1591" stop-color="#0000d1"/><stop offset="0.1866" stop-color="#0005ff"/><stop offset="0.3036" stop-color="#0005ff"/><stop offset="0.3311" stop-color="#004dff"/><stop offset="0.4478" stop-color="#004dff"/><stop offset="0.4753" stop-color="#0094ff"/><stop offset="0.4838" stop-color="#0094ff"/><stop offset="0.5113" stop-color="#05fffa"/><stop offset="0.5287" stop-color="#05fffa"/><stop offset="0.5562" stop-color="#faff05"/><stop offset="0.5867" stop-color="#faff05"/><stop offset="0.6142" stop-color="#ff9400"/><stop offset="0.6265" stop-color="#ff9400"/><stop offset="0.6539" stop-color="#ff0500"/><stop offset="0.7670" stop-color="#ff0500"/><stop offset="0.7944" stop-color="#b30000"/><stop offset="0.8677" stop-color="#b30000"/><stop offset="0.8952" stop-color="#ff0500"/><stop offset="0.9288" stop-color="#ff0500"/><stop offset="0.9563" stop-color="#ff9400"/><stop offset="1.0000" stop-color="#ff9400"/></linearGradient><linearGradient id="hr18" gradientUnits="userSpaceOnUse" x1="1062.40" y1="0" x2="1389.80" y2="0"><stop offset="0.0000" stop-color="#004dff"/><stop offset="0.0150" stop-color="#004dff"/><stop offset="0.0425" stop-color="#05fffa"/><stop offset="0.0440" stop-color="#05fffa"/><stop offset="0.0715" stop-color="#94ff6b"/><stop offset="0.1161" stop-color="#94ff6b"/><stop offset="0.1436" stop-color="#05fffa"/><stop offset="0.1808" stop-color="#05fffa"/><stop offset="0.2083" stop-color="#00b3ff"/><stop offset="0.2312" stop-color="#00b3ff"/><stop offset="0.2587" stop-color="#00dbff"/><stop offset="0.3036" stop-color="#00dbff"/><stop offset="0.3311" stop-color="#0094ff"/><stop offset="0.5910" stop-color="#0094ff"/><stop offset="0.6185" stop-color="#05fffa"/><stop offset="0.6451" stop-color="#05fffa"/><stop offset="0.6726" stop-color="#80ff80"/><stop offset="0.7172" stop-color="#80ff80"/><stop offset="0.7447" stop-color="#c7ff38"/><stop offset="0.7712" stop-color="#c7ff38"/><stop offset="0.7941" stop-color="#fffa00"/><stop offset="0.7941" stop-color="#fffa00"/><stop offset="0.8170" stop-color="#ff8000"/><stop offset="0.8256" stop-color="#ff8000"/><stop offset="0.8531" stop-color="#ff0500"/><stop offset="0.8616" stop-color="#ff0500"/><stop offset="0.8891" stop-color="#b30000"/><stop offset="1.0000" stop-color="#b30000"/></linearGradient><linearGradient id="hr19" gradientUnits="userSpaceOnUse" x1="1062.40" y1="0" x2="1389.80" y2="0"><stop offset="0.0000" stop-color="#05fffa"/><stop offset="0.0086" stop-color="#05fffa"/><stop offset="0.0308" stop-color="#002eff"/><stop offset="0.1378" stop-color="#002eff"/><stop offset="0.1652" stop-color="#0094ff"/><stop offset="0.1744" stop-color="#0094ff"/><stop offset="0.2019" stop-color="#05fffa"/><stop offset="0.6662" stop-color="#05fffa"/><stop offset="0.6921" stop-color="#80ff80"/><stop offset="0.6921" stop-color="#80ff80"/><stop offset="0.7166" stop-color="#faff05"/><stop offset="0.7166" stop-color="#faff05"/><stop offset="0.7425" stop-color="#ff9400"/><stop offset="0.7883" stop-color="#ff9400"/><stop offset="0.8158" stop-color="#ff0500"/><stop offset="0.8494" stop-color="#ff0500"/><stop offset="0.8769" stop-color="#b30000"/><stop offset="1.0000" stop-color="#b30000"/></linearGradient></defs>
<defs><clipPath id="hclip"><rect x="1062.40" y="950.00" width="327.40" height="346.30"/></clipPath><filter id="hblur" x="-5%" y="-5%" width="110%" height="110%"><feGaussianBlur stdDeviation="1.6 0.7"/></filter></defs>
<g clip-path="url(#hclip)"><g filter="url(#hblur)">
<rect x="1057.40" y="947.00" width="337.40" height="20.81" fill="url(#hr0)"/>
<rect x="1057.40" y="967.32" width="337.40" height="17.81" fill="url(#hr1)"/>
<rect x="1057.40" y="984.63" width="337.40" height="17.81" fill="url(#hr2)"/>
<rect x="1057.40" y="1001.94" width="337.40" height="17.81" fill="url(#hr3)"/>
<rect x="1057.40" y="1019.26" width="337.40" height="17.81" fill="url(#hr4)"/>
<rect x="1057.40" y="1036.58" width="337.40" height="17.81" fill="url(#hr5)"/>
<rect x="1057.40" y="1053.89" width="337.40" height="17.81" fill="url(#hr6)"/>
<rect x="1057.40" y="1071.20" width="337.40" height="17.81" fill="url(#hr7)"/>
<rect x="1057.40" y="1088.52" width="337.40" height="17.81" fill="url(#hr8)"/>
<rect x="1057.40" y="1105.84" width="337.40" height="17.81" fill="url(#hr9)"/>
<rect x="1057.40" y="1123.15" width="337.40" height="17.81" fill="url(#hr10)"/>
<rect x="1057.40" y="1140.46" width="337.40" height="17.81" fill="url(#hr11)"/>
<rect x="1057.40" y="1157.78" width="337.40" height="17.81" fill="url(#hr12)"/>
<rect x="1057.40" y="1175.10" width="337.40" height="17.81" fill="url(#hr13)"/>
<rect x="1057.40" y="1192.41" width="337.40" height="17.81" fill="url(#hr14)"/>
<rect x="1057.40" y="1209.72" width="337.40" height="17.81" fill="url(#hr15)"/>
<rect x="1057.40" y="1227.04" width="337.40" height="17.81" fill="url(#hr16)"/>
<rect x="1057.40" y="1244.36" width="337.40" height="17.81" fill="url(#hr17)"/>
<rect x="1057.40" y="1261.67" width="337.40" height="17.81" fill="url(#hr18)"/>
<rect x="1057.40" y="1278.98" width="337.40" height="20.81" fill="url(#hr19)"/>
</g></g>
<line x1="1062.4" y1="950.0" x2="1062.4" y2="1296.3" stroke="#111" stroke-width="1.2"/>
<line x1="1062.4" y1="1296.3" x2="1389.8" y2="1296.3" stroke="#111" stroke-width="1.2"/>
<text x="1030.14" y="964.70" font-family="'Liberation Sans', sans-serif" font-size="36.50" font-weight="normal" font-style="normal" fill="#000" textLength="18.26" lengthAdjust="spacingAndGlyphs" stroke="#000" stroke-width="0.5">1</text>
<text x="1007.13" y="1308.80" font-family="'Liberation Sans', sans-serif" font-size="36.50" font-weight="normal" font-style="normal" fill="#000" textLength="41.53" lengthAdjust="spacingAndGlyphs" stroke="#000" stroke-width="0.5">21</text>
<text x="1051.35" y="1343.00" font-family="'Liberation Sans', sans-serif" font-size="37.00" font-weight="normal" font-style="normal" fill="#000" textLength="22.95" lengthAdjust="spacingAndGlyphs" stroke="#000" stroke-width="0.5">0</text>
<text x="1368.07" y="1343.50" font-family="'Liberation Sans', sans-serif" font-size="37.50" font-weight="normal" font-style="normal" fill="#000" textLength="43.49" lengthAdjust="spacingAndGlyphs" stroke="#000" stroke-width="0.5">16</text>
<text x="1160.41" y="1352.00" font-family="'Liberation Sans', sans-serif" font-size="41.00" font-weight="normal" font-style="normal" fill="#000" textLength="130.97" lengthAdjust="spacingAndGlyphs" stroke="#000" stroke-width="0.5">time (s)</text>
<text transform="translate(1027.00,1184.66) rotate(-90)" font-family="'Liberation Sans', sans-serif" font-size="41.00" fill="#000" stroke="#000" stroke-width="0.5" textLength="122.78" lengthAdjust="spacingAndGlyphs">neuron</text>
</svg></body></html>
